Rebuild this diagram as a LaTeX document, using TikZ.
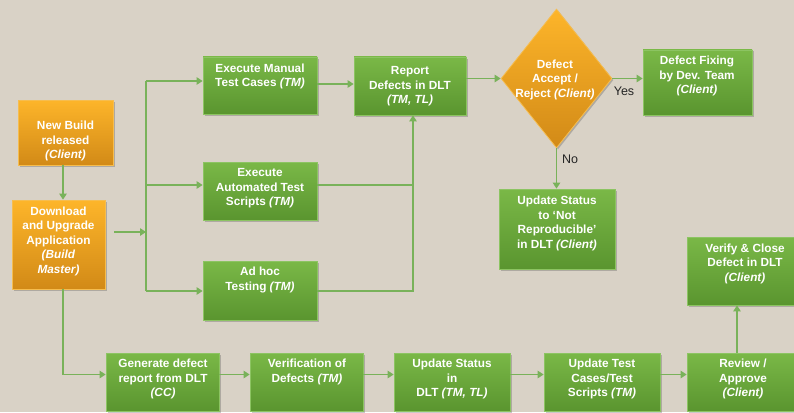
\documentclass[tikz,border=0pt]{standalone}
\usepackage{fontspec}
\setmainfont{Liberation Sans}
\usetikzlibrary{arrows.meta,shapes.geometric,shadows,calc}
\definecolor{bg}{HTML}{D9D2C6}
\definecolor{gtop}{HTML}{7AB847}
\definecolor{gbot}{HTML}{5A952F}
\definecolor{gline}{HTML}{8CC462}
\definecolor{otop}{HTML}{FDB52A}
\definecolor{obot}{HTML}{D28A17}
\definecolor{oline}{HTML}{F6BD4F}
\definecolor{conn}{HTML}{79B25A}
\tikzset{
  shd/.style={drop shadow={shadow xshift=1.5pt,shadow yshift=-1.5pt,opacity=0.3,fill=black!70}},
  gbox/.style={rectangle,draw=gline,line width=0.8pt,top color=gtop,bottom color=gbot,inner sep=0pt,shd},
  obox/.style={rectangle,draw=oline,line width=0.8pt,top color=otop,bottom color=obot,inner sep=0pt,shd},
  txt/.style={text=white,align=center,inner sep=0pt,font=\fontsize{11.8}{14.5}\selectfont\bfseries},
  ln/.style={draw=conn,line width=1.2pt},
  arr/.style={ln,-{Triangle[length=6pt,width=7.5pt]}},
  lab/.style={text=black!85,inner sep=0pt,font=\fontsize{12.5}{14}\selectfont}
}
\begin{document}
\begin{tikzpicture}[x=1pt,y=-1pt]
\useasboundingbox (0,0) rectangle (794,412);
\fill[bg] (0,0) rectangle (794,412);

% boxes
\node[obox,minimum width=95pt,minimum height=65pt] (newbuild) at (65.5,132.5) {};
\node[obox,minimum width=93pt,minimum height=89pt] (download) at (58.5,244.5) {};
\node[gbox,minimum width=114pt,minimum height=57pt] (manual) at (260,85.5) {};
\node[gbox,minimum width=112pt,minimum height=58pt] (report) at (410,86) {};
\node[gbox,minimum width=114pt,minimum height=58pt] (auto) at (260,191) {};
\node[gbox,minimum width=114pt,minimum height=59pt] (adhoc) at (260,290.5) {};
\node[diamond,draw=oline,line width=0.8pt,top color=otop,bottom color=obot,inner sep=0pt,shd,minimum width=111pt,minimum height=139pt] (decide) at (556.5,78.5) {};
\node[gbox,minimum width=109pt,minimum height=65pt] (fix) at (697.5,82.5) {};
\node[gbox,minimum width=116pt,minimum height=80pt] (notrep) at (557,229) {};
\node[gbox,minimum width=116pt,minimum height=68pt] (verify) at (745,271) {};
\node[gbox,minimum width=113pt,minimum height=58pt] (gen) at (162.5,382) {};
\node[gbox,minimum width=113pt,minimum height=58pt] (verif) at (306.5,382) {};
\node[gbox,minimum width=116pt,minimum height=58pt] (upd) at (452,382) {};
\node[gbox,minimum width=116pt,minimum height=58pt] (updtc) at (602,382) {};
\node[gbox,minimum width=113pt,minimum height=58pt] (review) at (743.5,382) {};

% texts
\node[txt] (newbuildT) at (65.5,141) {New Build\\released\\\textit{(Client)}};
\node[txt] (downloadT) at (58.5,241) {Download\\and Upgrade\\Application\\\textit{(Build}\\\textit{Master)}};
\node[txt] (manualT) at (260,76.5) {Execute Manual\\Test Cases \textit{(TM)}};
\node[txt] (reportT) at (410,86.5) {Report\\Defects in DLT\\\textit{(TM, TL)}};
\node[txt] (autoT) at (260,188.5) {Execute\\Automated Test\\Scripts \textit{(TM)}};
\node[txt] (adhocT) at (260,280) {Ad hoc\\Testing \textit{(TM)}};
\node[txt] (decideT) at (555,79.5) {Defect\\Accept /\\Reject \textit{(Client)}};
\node[txt] (fixT) at (697,76) {Defect Fixing\\by Dev. Team\\\textit{(Client)}};
\node[txt] (notrepT) at (557,223.5) {Update Status\\to ‘Not\\Reproducible’\\in DLT \textit{(Client)}};
\node[txt] (verifyT) at (745,263.5) {Verify \& Close\\Defect in DLT\\\textit{(Client)}};
\node[txt] (genT) at (163,379) {Generate defect\\report from DLT\\\textit{(CC)}};
\node[txt] (verifT) at (307,372) {Verification of\\Defects \textit{(TM)}};
\node[txt] (updT) at (452,379) {Update Status\\in\\DLT \textit{(TM, TL)}};
\node[txt] (updtcT) at (602,379) {Update Test\\Cases/Test\\Scripts \textit{(TM)}};
\node[txt] (reviewT) at (743,379) {Review /\\Approve\\\textit{(Client)}};

% helper coordinates
\coordinate (cx) at (63,0);
\coordinate (dlout) at (114,232);
\coordinate (split) at (146,232);
\coordinate (bTop) at (146,81);
\coordinate (bMid) at (146,185);
\coordinate (bBot) at (146,291);
\coordinate (rMid) at (413,185);
\coordinate (rBot) at (413,291);
\coordinate (vx) at (737,0);

% connectors
\draw[arr] (newbuild.south -| cx) -- (download.north -| cx);
\draw[arr] (dlout) -- (split);
\draw[ln] (bTop) -- (bBot);
\draw[arr] (bTop) -- (bTop -| manual.west);
\draw[arr] (bMid) -- (bMid -| auto.west);
\draw[arr] (bBot) -- (bBot -| adhoc.west);
\draw[arr] ([yshift=1.5pt]manual.east) -- ([yshift=1.5pt]manual.east -| report.west);
\draw[ln] (bMid -| auto.east) -- (rMid);
\draw[arr] (bBot -| adhoc.east) -- (rBot) -- (rBot |- report.south);
\draw[arr] (report.east |- decide.west) -- (decide.west);
\draw[arr] (decide.east) -- (decide.east -| fix.west);
\node[lab] (yes) at (624,91) {Yes};
\draw[arr] (decide.south) -- (decide.south |- notrep.north);
\node[lab] (no) at (570,159) {No};
\draw[arr] (download.south -| cx) -- ([yshift=7.5pt]gen.west -| cx) -- ([yshift=7.5pt]gen.west);
\draw[arr] ([yshift=7.5pt]gen.east) -- ([yshift=7.5pt]verif.west);
\draw[arr] ([yshift=7.5pt]verif.east) -- ([yshift=7.5pt]upd.west);
\draw[arr] ([yshift=7.5pt]upd.east) -- ([yshift=7.5pt]updtc.west);
\draw[arr] ([yshift=7.5pt]updtc.east) -- ([yshift=7.5pt]review.west);
\draw[arr] (review.north -| vx) -- (verify.south -| vx);
\end{tikzpicture}
\end{document}
